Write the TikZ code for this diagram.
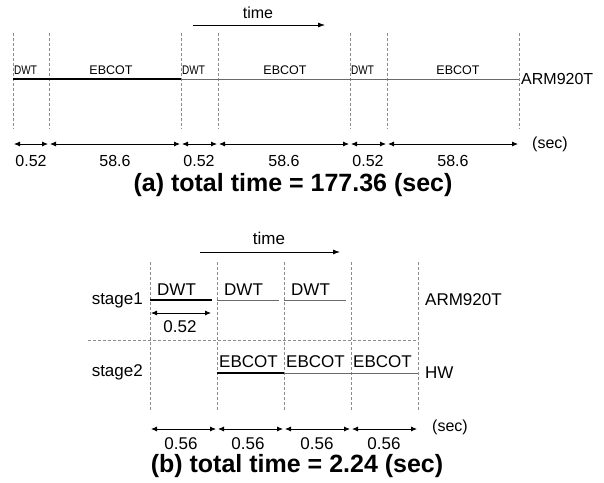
\documentclass[tikz,border=0pt]{standalone}
\usepackage{fontspec}
\setmainfont{Liberation Sans}
\usetikzlibrary{arrows.meta,positioning}
\definecolor{tickgray}{HTML}{8C8C8C}
\definecolor{bargray}{HTML}{6A6A6A}
\tikzset{
  tickline/.style={draw=tickgray, dash pattern=on 3pt off 2pt, line width=0.7pt},
  thinbar/.style={draw=bargray, line width=0.8pt},
  thickbar/.style={draw=black, line width=1.8pt},
  dimarrow/.style={{Latex[length=6pt,width=5pt]}-{Latex[length=6pt,width=5pt]}, line width=0.8pt, shorten <=1pt, shorten >=1pt},
  timearrow/.style={-{Latex[length=7pt,width=5pt]}, line width=0.8pt},
  tinylabel/.style={font=\fontsize{12.5}{14}\selectfont, inner sep=0pt},
  dwtlabel/.style={font=\fontsize{12.5}{14}\selectfont\addfontfeature{FakeStretch=0.8}, inner sep=0pt},
  midlabel/.style={font=\fontsize{16}{18}\selectfont, inner sep=0pt},
  biglabel/.style={font=\fontsize{17}{19}\selectfont, inner sep=0pt},
  titlelabel/.style={font=\bfseries\fontsize{25}{28}\selectfont, inner sep=0pt}
}
\begin{document}
\begin{tikzpicture}[x=1pt, y=-1pt]
  \useasboundingbox (0,0) rectangle (604,482);
  % (a) sequential run
  \foreach \x [count=\i] in {13,49,181,218,350,387,519} {
    \coordinate (at\i) at (\x,33);
    \coordinate (ab\i) at (\x,129);
    \coordinate (al\i) at (\x,79);
    \coordinate (ad\i) at (\x,144);
    \draw[tickline] (at\i) -- (ab\i);
  }
  \draw[thickbar] (al1) -- (al3);
  \draw[thinbar] (al3) -- (al7);
  \foreach \i in {1,3,5}
    \node[dwtlabel, anchor=base west] (dwta\i) at ([xshift=1pt,yshift=5pt]al\i) {DWT};
  \foreach \x [count=\i] in {111,285,458}
    \node[tinylabel, anchor=base] (ebcota\i) at (\x,74) {EBCOT};
  \node[midlabel, anchor=west] (arma) at (521,79) {ARM920T};
  \foreach \i/\j in {1/2,2/3,3/4,4/5,5/6,6/7}
    \draw[dimarrow] (ad\i) -- (ad\j);
  \foreach \x/\v [count=\i] in {31/0.52,115/58.6,199/0.52,284/58.6,368/0.52,453/58.6}
    \node[midlabel] (numa\i) at (\x,161) {\v};
  \node[midlabel, anchor=west] (seca) at (532,144) {(sec)};
  \coordinate (tas) at (193,25);
  \coordinate (tae) at (325,25);
  \draw[timearrow] (tas) -- (tae);
  \node[midlabel] (timea) at (258,13) {time};
  \node[titlelabel] (titlea) at (293,185) {(a) total time = 177.36 (sec)};
  % (b) pipelined run
  \foreach \x [count=\i] in {150,217,284,351,418} {
    \coordinate (bt\i) at (\x,262);
    \coordinate (bb\i) at (\x,410);
    \coordinate (bd\i) at (\x,429);
    \coordinate (bu\i) at (\x,300);
    \coordinate (bl\i) at (\x,373);
    \draw[tickline] (bt\i) -- (bb\i);
  }
  \coordinate (sepl) at (88,340);
  \coordinate (sepr) at (418,340);
  \draw[tickline] (sepl) -- (sepr);
  \node[biglabel, anchor=east] (stage1) at (143,300) {stage1};
  \node[biglabel, anchor=east] (stage2) at (143,372) {stage2};
  \draw[thickbar] (bu1) -- ([xshift=-5pt]bu2);
  \draw[thinbar] (bu2) -- ([xshift=-5pt]bu3);
  \draw[thinbar] (bu3) -- ([xshift=-5pt]bu4);
  \foreach \i in {1,2,3}
    \node[biglabel, anchor=base west] (dwtb\i) at ([xshift=7pt,yshift=5pt]bu\i) {DWT};
  \coordinate (qs) at (150,313);
  \coordinate (qe) at (212,313);
  \draw[dimarrow] (qs) -- (qe);
  \node[biglabel] (dwtt) at (180,327) {0.52};
  \draw[thickbar] (bl2) -- (bl3);
  \draw[thinbar] (bl3) -- (bl5);
  \foreach \i in {2,3,4}
    \node[biglabel, anchor=base west] (ebcotb\i) at ([xshift=2pt,yshift=6pt]bl\i) {EBCOT};
  \node[biglabel, anchor=west] (armb) at (425,300) {ARM920T};
  \node[biglabel, anchor=west] (hwb) at (425,373) {HW};
  \foreach \i/\j in {1/2,2/3,3/4,4/5}
    \draw[dimarrow] (bd\i) -- (bd\j);
  \foreach \x [count=\i] in {181,248,317,384}
    \node[biglabel] (numb\i) at (\x,444) {0.56};
  \node[midlabel, anchor=west] (secb) at (432,427) {(sec)};
  \coordinate (tbs) at (200,252);
  \coordinate (tbe) at (340,252);
  \draw[timearrow] (tbs) -- (tbe);
  \node[biglabel] (timeb) at (269,238) {time};
  \node[titlelabel] (titleb) at (297,466) {(b) total time = 2.24 (sec)};
\end{tikzpicture}
\end{document}
